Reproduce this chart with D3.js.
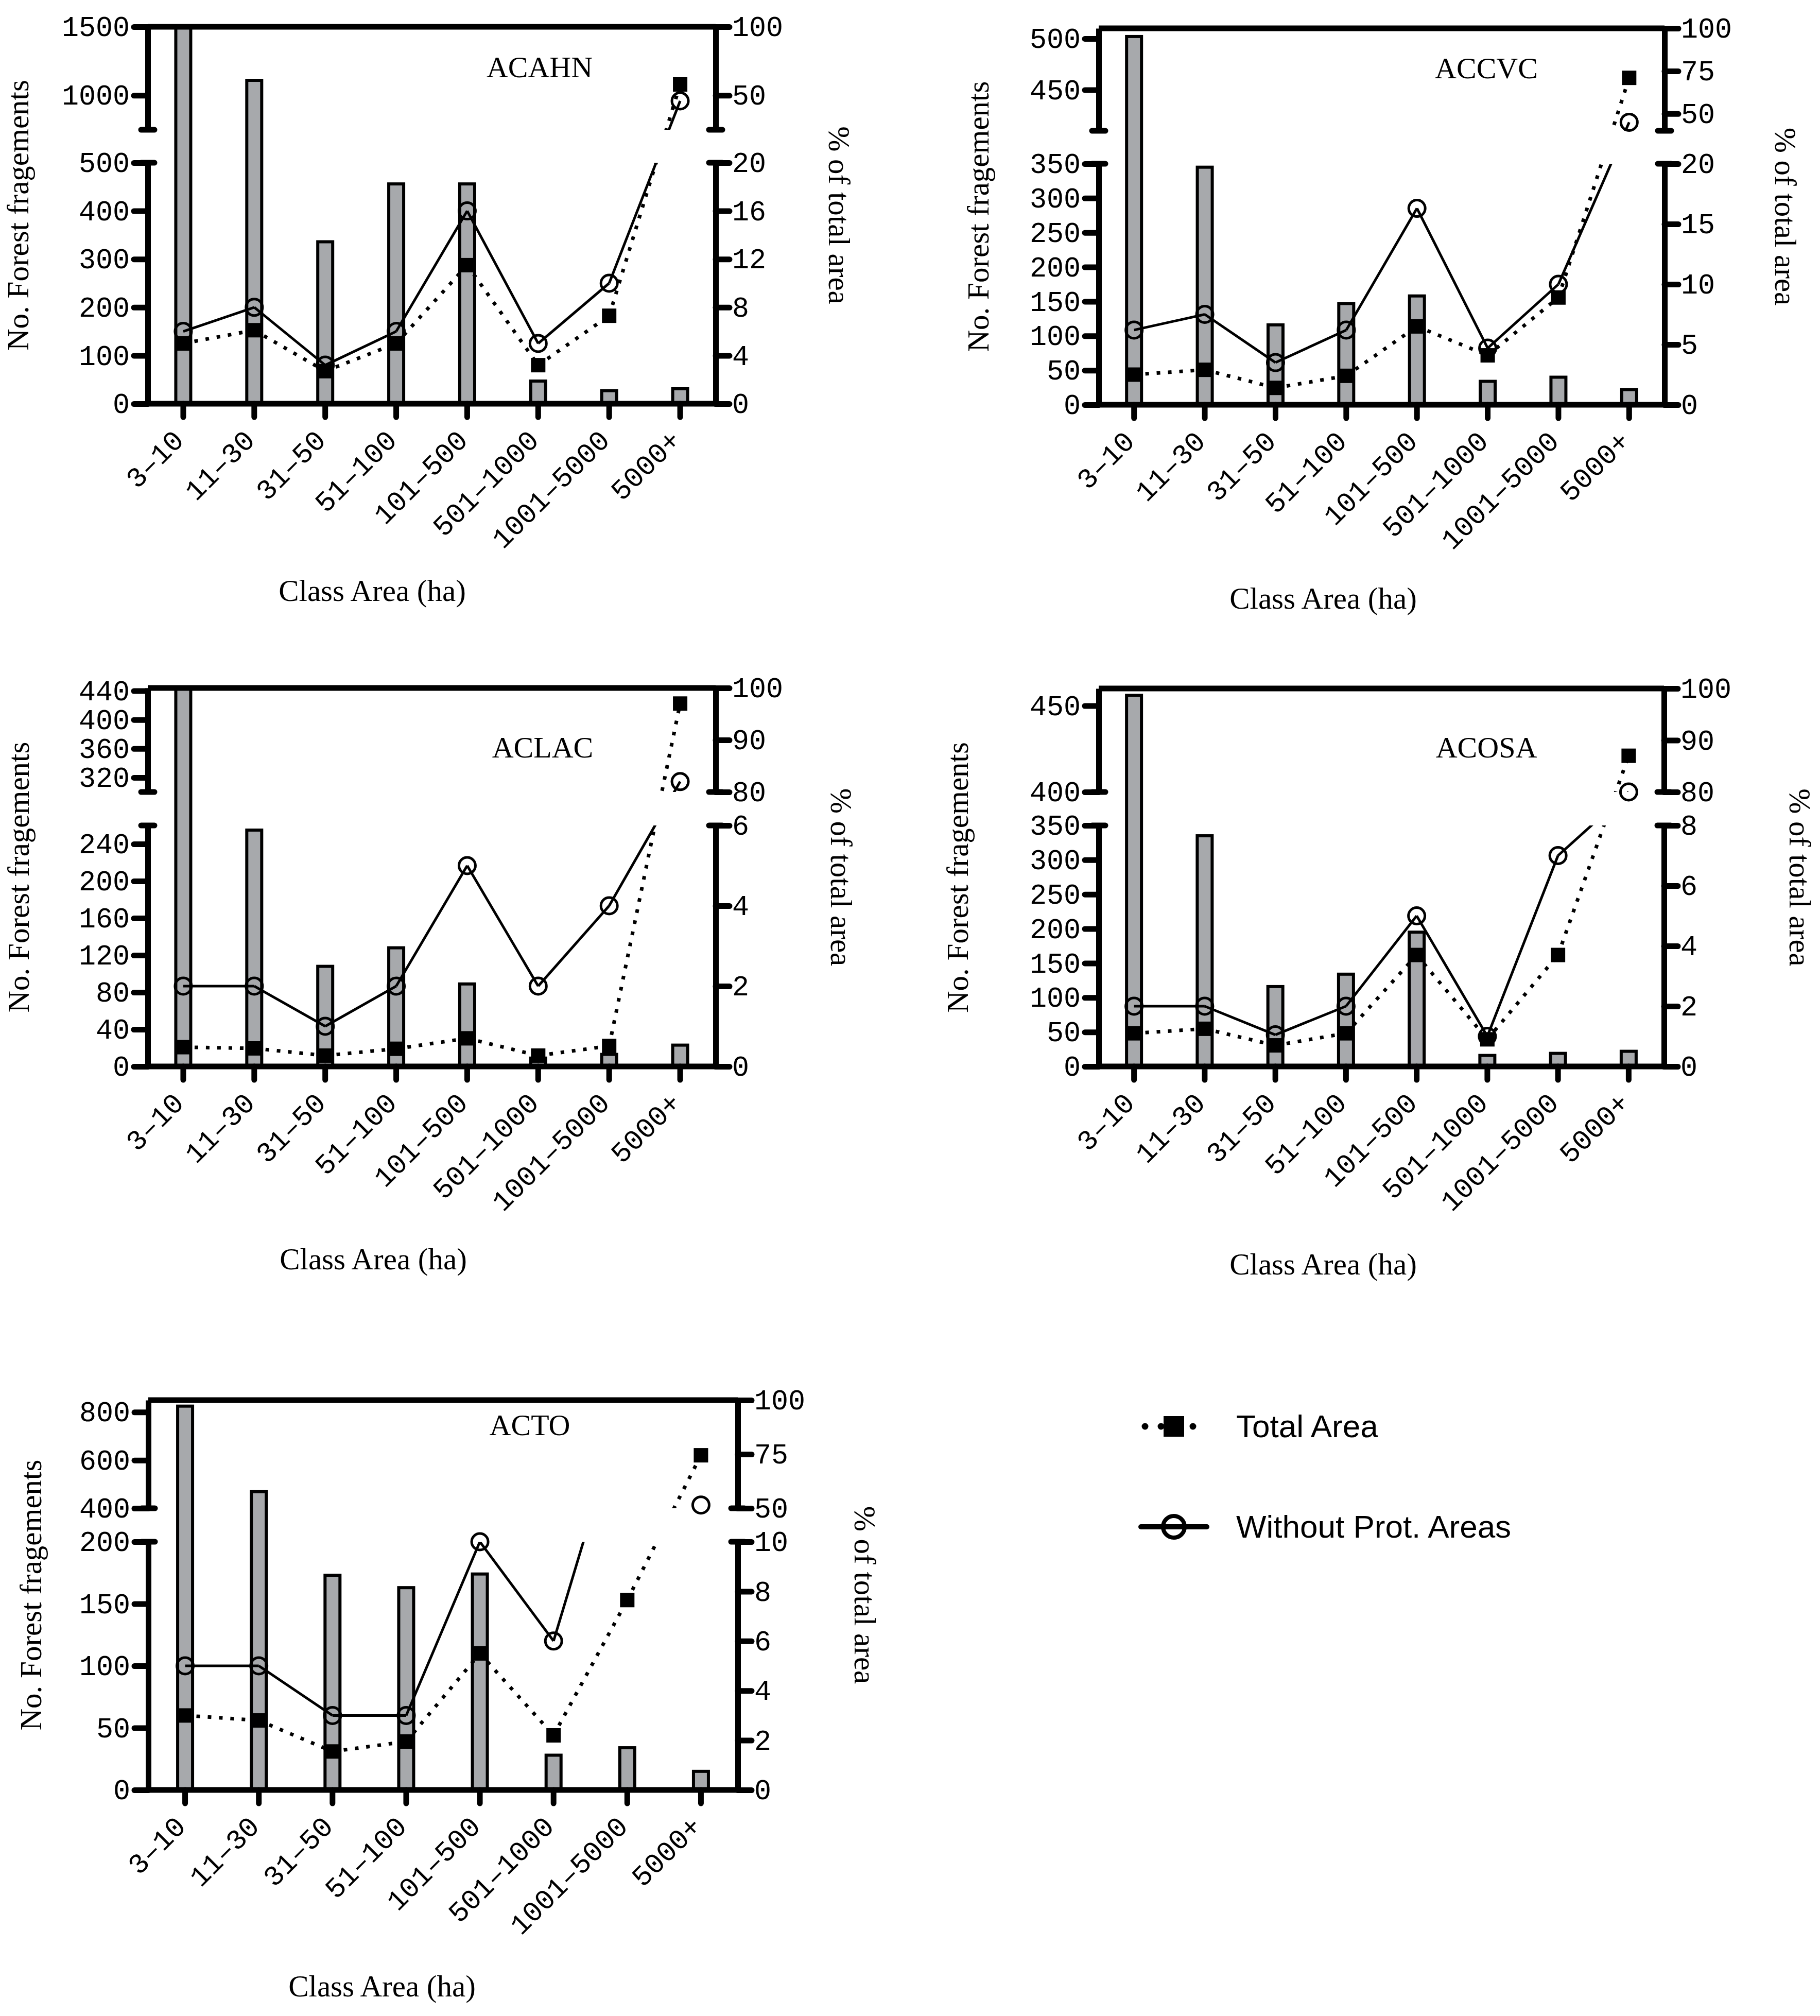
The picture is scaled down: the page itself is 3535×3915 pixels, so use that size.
<!DOCTYPE html>
<html>
<head>
<meta charset="utf-8">
<script src="https://cdn.jsdelivr.net/npm/d3@7"></script>
<style>
  body { margin: 0; background: #fff; }
  svg { display: block; }
</style>
</head>
<body>
<svg id="chart" width="3535" height="3915"></svg>
<script>
// class areas (ha)
const categories = ["3–10", "11–30", "31–50", "51–100", "101–500", "501–1000", "1001–5000", "5000+"];

// No. forest fragments (bars, left axis) and % of total area (right axis)
const acahnFragments = [1500, 1110, 336, 456, 456, 47, 27, 31];
const acahnTotal = [5.0, 6.1, 2.7, 5.0, 11.5, 3.2, 7.3, 58];
const acahnWithout = [6.0, 8.0, 3.2, 6.0, 16.0, 5.0, 10.0, 46];

const accvcFragments = [502, 345, 116, 147, 158, 34, 40, 22];
const accvcTotal = [2.5, 2.9, 1.4, 2.4, 6.5, 4.1, 8.9, 71];
const accvcWithout = [6.2, 7.5, 3.5, 6.2, 16.3, 4.7, 10.0, 45];

const aclacFragments = [444, 255, 108, 128, 89, 9, 13, 23];
const aclacTotal = [0.48, 0.45, 0.27, 0.44, 0.7, 0.27, 0.51, 97];
const aclacWithout = [2, 2, 1, 2, 5, 2, 4, 82];

const acosaFragments = [456, 335, 116, 134, 195, 16, 19, 22];
const acosaTotal = [1.1, 1.25, 0.7, 1.1, 3.7, 0.9, 3.7, 87];
const acosaWithout = [2, 2, 1.05, 2, 5, 1, 7, 80];

const actoFragments = [825, 469, 173, 163, 174, 28, 34, 15];
const actoTotal = [3.0, 2.8, 1.55, 1.95, 5.5, 2.2, 7.65, 74.5];
const actoWithout = [5, 5, 3, 3, 10, 6, 102, 51.5]; // 1001-5000 is off the top of the scale

// broken axis tick labels: [lower segment, upper segment]
const acahnLeftTicks = [[0, 100, 200, 300, 400, 500], [1000, 1500]];
const acahnRightTicks = [[0, 4, 8, 12, 16, 20], [50, 100]];
const accvcLeftTicks = [[0, 50, 100, 150, 200, 250, 300, 350], [450, 500]];
const accvcRightTicks = [[0, 5, 10, 15, 20], [50, 75, 100]];
const aclacLeftTicks = [[0, 40, 80, 120, 160, 200, 240], [320, 360, 400, 440]];
const aclacRightTicks = [[0, 2, 4, 6], [80, 90, 100]];
const acosaLeftTicks = [[0, 50, 100, 150, 200, 250, 300, 350], [400, 450]];
const acosaRightTicks = [[0, 2, 4, 6, 8], [80, 90, 100]];
const actoLeftTicks = [[0, 50, 100, 150, 200], [400, 600, 800]];
const actoRightTicks = [[0, 2, 4, 6, 8, 10], [50, 75, 100]];

const seriesNames = ["Total Area", "Without Prot. Areas"];

const panels = [
  { name: "ACAHN", bars: acahnFragments, total: acahnTotal, without: acahnWithout,
    leftTicks: acahnLeftTicks, rightTicks: acahnRightTicks,
    leftLow: [0, 500], leftUp: [750, 1500], rightLow: [0, 20], rightUp: [25, 100],
    left: 287, right: 1390, top: 52, zero: 784, bUp: 252, bLow: 316,
    yTitleX: 55, rTitleX: 1610, xTitle: [723, 1167], title: [1048, 150] },
  { name: "ACCVC", bars: accvcFragments, total: accvcTotal, without: accvcWithout,
    leftTicks: accvcLeftTicks, rightTicks: accvcRightTicks,
    leftLow: [0, 350], leftUp: [410, 510], rightLow: [0, 20], rightUp: [40, 100],
    left: 2134, right: 3233, top: 55, zero: 786, bUp: 254, bLow: 318,
    yTitleX: 1920, rTitleX: 3448, xTitle: [2570, 1182], title: [2887, 152] },
  { name: "ACLAC", bars: aclacFragments, total: aclacTotal, without: aclacWithout,
    leftTicks: aclacLeftTicks, rightTicks: aclacRightTicks,
    leftLow: [0, 260], leftUp: [300, 444], rightLow: [0, 6], rightUp: [80, 100],
    left: 287, right: 1390, top: 1336, zero: 2071, bUp: 1538, bLow: 1603,
    yTitleX: 56, rTitleX: 1614, xTitle: [725, 2465], title: [1054, 1471] },
  { name: "ACOSA", bars: acosaFragments, total: acosaTotal, without: acosaWithout,
    leftTicks: acosaLeftTicks, rightTicks: acosaRightTicks,
    leftLow: [0, 350], leftUp: [400, 460], rightLow: [0, 8], rightUp: [80, 100],
    left: 2134, right: 3232, top: 1337, zero: 2071, bUp: 1538, bLow: 1603,
    yTitleX: 1880, rTitleX: 3476, xTitle: [2570, 2475], title: [2887, 1471] },
  { name: "ACTO", bars: actoFragments, total: actoTotal, without: actoWithout,
    leftTicks: actoLeftTicks, rightTicks: actoRightTicks,
    leftLow: [0, 200], leftUp: [400, 850], rightLow: [0, 10], rightUp: [50, 100],
    left: 288, right: 1433, top: 2719, zero: 3476, bUp: 2929, bLow: 2994,
    yTitleX: 80, rTitleX: 1660, xTitle: [742, 3877], title: [1029, 2787] }
];

const monoFont = "'Liberation Mono', 'DejaVu Sans Mono', monospace";
const serifFont = "'Liberation Serif', 'DejaVu Serif', serif";
const sansFont = "'Liberation Sans', Arial, sans-serif";
const barFill = "#a7a9ac";

const svg = d3.select("#chart");

// scale with a gap between a lower and an upper segment
function brokenScale(lowDom, upDom, p) {
  const lo = d3.scaleLinear().domain(lowDom).range([p.zero, p.bLow]);
  const hi = d3.scaleLinear().domain(upDom).range([p.bUp, p.top]);
  const f = (v) => (v >= upDom[0] ? hi(v) : lo(v));
  f.lo = lo;
  f.hi = hi;
  f.region = (v) => {
    if (v >= lowDom[0] && v <= lowDom[1]) return "low";
    if (v >= upDom[0] && v <= upDom[1]) return "up";
    return null;
  };
  return f;
}

function styleAxis(sel) {
  sel.attr("font-family", monoFont).attr("font-size", 55);
  sel.select(".domain").attr("stroke", "#000").attr("stroke-width", 11);
  sel.selectAll(".tick line").attr("stroke", "#000").attr("stroke-width", 11).attr("stroke-linecap", "round");
  sel.selectAll(".tick text").attr("fill", "#000");
}

panels.forEach((p, pi) => {
  const g = svg.append("g");
  const x = d3.scaleBand().domain(categories).range([p.left, p.right]);
  const xc = (i) => x(categories[i]) + x.bandwidth() / 2;
  const yL = brokenScale(p.leftLow, p.leftUp, p);
  const yR = brokenScale(p.rightLow, p.rightUp, p);

  // clip regions: lower segment only, and lower + upper (the gap left out)
  const defs = g.append("defs");
  const clipLow = defs.append("clipPath").attr("id", "low" + pi);
  clipLow.append("rect").attr("x", p.left - 20).attr("y", p.bLow)
    .attr("width", p.right - p.left + 40).attr("height", p.zero - p.bLow + 10);
  const clipBoth = defs.append("clipPath").attr("id", "both" + pi);
  clipBoth.append("rect").attr("x", p.left - 20).attr("y", p.bLow)
    .attr("width", p.right - p.left + 40).attr("height", p.zero - p.bLow + 10);
  clipBoth.append("rect").attr("x", p.left - 20).attr("y", p.top)
    .attr("width", p.right - p.left + 40).attr("height", p.bUp - p.top);

  // bars
  g.selectAll(".bar")
    .data(p.bars)
    .enter()
    .append("rect")
    .attr("class", "bar")
    .attr("x", (d, i) => xc(i) - 14.5)
    .attr("width", 29)
    .attr("y", (d) => Math.max(yL(d), p.top))
    .attr("height", (d) => p.zero - Math.max(yL(d), p.top))
    .attr("fill", barFill)
    .attr("stroke", "#000")
    .attr("stroke-width", 6);

  // lines, drawn segment by segment through the broken axis
  function drawLine(values, dash, width) {
    for (let i = 0; i < values.length - 1; i++) {
      const ra = yR.region(values[i]);
      const rb = yR.region(values[i + 1]);
      const clip = ra && rb ? "both" : "low";
      g.append("line")
        .attr("x1", xc(i)).attr("y1", yR(values[i]))
        .attr("x2", xc(i + 1)).attr("y2", yR(values[i + 1]))
        .attr("clip-path", `url(#${clip}${pi})`)
        .attr("stroke", "#000")
        .attr("stroke-width", width)
        .attr("stroke-dasharray", dash);
    }
  }
  drawLine(p.total, "7 15", 7);
  drawLine(p.without, null, 5);

  // markers
  g.selectAll(".circ")
    .data(p.without.map((v, i) => ({ v, i })).filter((d) => yR.region(d.v)))
    .enter()
    .append("circle")
    .attr("cx", (d) => xc(d.i))
    .attr("cy", (d) => yR(d.v))
    .attr("r", 16)
    .attr("fill", "none")
    .attr("stroke", "#000")
    .attr("stroke-width", 5);

  g.selectAll(".sq")
    .data(p.total.map((v, i) => ({ v, i })).filter((d) => yR.region(d.v)))
    .enter()
    .append("rect")
    .attr("x", (d) => xc(d.i) - 14)
    .attr("y", (d) => yR(d.v) - 14)
    .attr("width", 28)
    .attr("height", 28)
    .attr("fill", "#000");

  // top frame
  g.append("line")
    .attr("x1", p.left).attr("x2", p.right)
    .attr("y1", p.top).attr("y2", p.top)
    .attr("stroke", "#000").attr("stroke-width", 11);

  // left axis (two segments)
  [yL.lo, yL.hi].forEach((s, k) => {
    g.append("g")
      .attr("transform", `translate(${p.left},0)`)
      .call(d3.axisLeft(s).tickValues(p.leftTicks[k]).tickFormat(d3.format("d"))
        .tickSize(27).tickSizeOuter(0).tickPadding(8))
      .call(styleAxis);
  });
  // right axis (two segments)
  [yR.lo, yR.hi].forEach((s, k) => {
    g.append("g")
      .attr("transform", `translate(${p.right},0)`)
      .call(d3.axisRight(s).tickValues(p.rightTicks[k]).tickFormat(d3.format("d"))
        .tickSize(27).tickSizeOuter(0).tickPadding(5))
      .call(styleAxis);
  });
  // break caps
  [p.left, p.right].forEach((ax) => {
    [p.bUp, p.bLow].forEach((by) => {
      g.append("line")
        .attr("x1", ax - 13).attr("x2", ax + 13)
        .attr("y1", by).attr("y2", by)
        .attr("stroke", "#000").attr("stroke-width", 11)
        .attr("stroke-linecap", "round");
    });
  });

  // x axis
  const xAxis = g.append("g")
    .attr("transform", `translate(0,${p.zero})`)
    .call(d3.axisBottom(x).tickSize(26).tickSizeOuter(0))
    .call(styleAxis);
  xAxis.select(".domain").attr("d", `M${p.left - 5},0H${p.right + 5}`);
  xAxis.selectAll(".tick text")
    .attr("x", 0).attr("y", 0).attr("dy", 0)
    .attr("text-anchor", "end")
    .attr("transform", "translate(4,74) rotate(-45)");

  // titles
  g.append("text")
    .attr("transform", `translate(${p.yTitleX},${(p.top + p.zero) / 2}) rotate(-90)`)
    .attr("text-anchor", "middle")
    .attr("font-family", serifFont)
    .attr("font-size", 59)
    .text("No. Forest fragements");

  g.append("text")
    .attr("transform", `translate(${p.rTitleX},${(p.top + p.zero) / 2}) rotate(90)`)
    .attr("text-anchor", "middle")
    .attr("font-family", serifFont)
    .attr("font-size", 59)
    .text("% of total area");

  g.append("text")
    .attr("x", p.xTitle[0]).attr("y", p.xTitle[1])
    .attr("text-anchor", "middle")
    .attr("font-family", serifFont)
    .attr("font-size", 59)
    .text("Class Area (ha)");

  g.append("text")
    .attr("x", p.title[0]).attr("y", p.title[1])
    .attr("text-anchor", "middle")
    .attr("font-family", serifFont)
    .attr("font-size", 58)
    .text(p.name);
});

// legend
const legend = svg.append("g").attr("transform", "translate(2280,0)");
const leg0 = legend.append("g").attr("transform", "translate(0,2770)");
leg0.append("line")
  .attr("x1", -56).attr("x2", 38)
  .attr("stroke", "#000").attr("stroke-width", 13)
  .attr("stroke-linecap", "round").attr("stroke-dasharray", "0 31");
leg0.append("rect").attr("x", -20).attr("y", -20).attr("width", 40).attr("height", 40).attr("fill", "#000");
leg0.append("text").attr("x", 121).attr("y", 21)
  .attr("font-family", sansFont).attr("font-size", 62).text(seriesNames[0]);

const leg1 = legend.append("g").attr("transform", "translate(0,2965)");
leg1.append("line")
  .attr("x1", -64).attr("x2", 64)
  .attr("stroke", "#000").attr("stroke-width", 10).attr("stroke-linecap", "round");
leg1.append("circle").attr("r", 21).attr("fill", "none").attr("stroke", "#000").attr("stroke-width", 8);
leg1.append("text").attr("x", 121).attr("y", 21)
  .attr("font-family", sansFont).attr("font-size", 62).text(seriesNames[1]);
</script>
</body>
</html>
